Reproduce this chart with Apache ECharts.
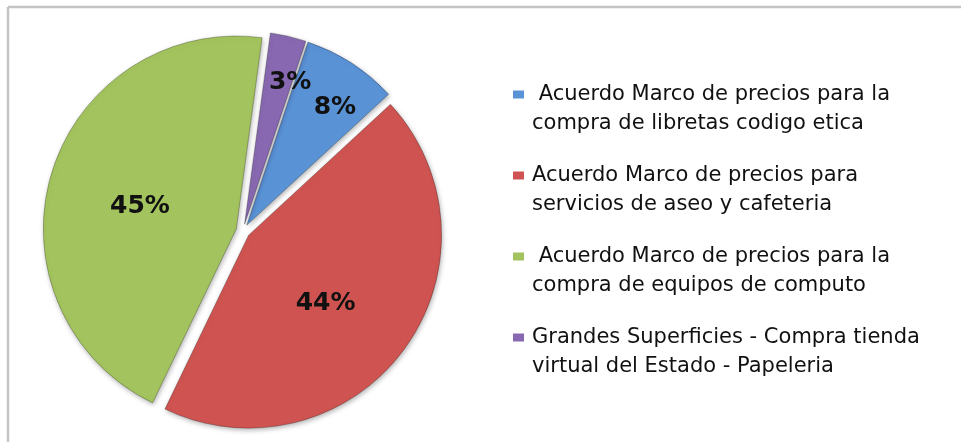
<!DOCTYPE html>
<html>
<head>
<meta charset="utf-8">
<script src="https://cdn.jsdelivr.net/npm/echarts@6/dist/echarts.min.js"></script>
<style>
  html, body { margin: 0; padding: 0; background: #fff; }
  #main { width: 961px; height: 442px; }
</style>
</head>
<body>
<div id="main"></div>
<script>
var categories = [
  " Acuerdo Marco de precios para la\ncompra de libretas codigo etica",
  "Acuerdo Marco de precios para\nservicios de aseo y cafeteria",
  " Acuerdo Marco de precios para la\ncompra de equipos de computo",
  "Grandes Superficies - Compra tienda\nvirtual del Estado - Papeleria"
];
var values = [8, 44, 45, 3];
var colors = ["#5a92d6", "#cf5451", "#a3c35e", "#8868b0"];
// nudges so the inside labels sit where the reference puts them
var labelNudge = [[34, -34], [-3, 9], [-1, 6], [23, -45]];

var myChart = echarts.init(document.getElementById("main"));

var pieData = [];
var rich = {
  s: { width: 8 },
  t: { fontFamily: "DejaVu Sans", fontSize: 21, lineHeight: 29, color: "#111" },
  t2: { fontFamily: "DejaVu Sans", fontSize: 21, lineHeight: 29, color: "#111", padding: [0, 0, 0, 19] }
};
for (var i = 0; i < categories.length; i++) {
  rich["m" + i] = { width: 11, height: 8, backgroundColor: colors[i] };
  pieData.push({
    name: categories[i],
    value: values[i],
    selected: true,
    itemStyle: { color: colors[i] }
  });
}

var options = {
  animation: false,
  graphic: [
    {
      type: "line",
      shape: { x1: 8, y1: 7, x2: 961, y2: 7 },
      style: { stroke: "#c4c4c4", lineWidth: 2.5 }
    },
    {
      type: "line",
      shape: { x1: 8, y1: 7, x2: 8, y2: 442 },
      style: { stroke: "#c4c4c4", lineWidth: 2.5 }
    }
  ],
  legend: {
    orient: "vertical",
    left: 508,
    top: 84,
    padding: 0,
    icon: "none",
    itemWidth: 0,
    itemHeight: 8,
    itemGap: 31,
    selectedMode: false,
    formatter: function (name) {
      var idx = categories.indexOf(name);
      var lines = name.split("\n");
      return "{m" + idx + "|}{s|}{t|" + lines[0] + "}\n{t2|" + lines[1] + "}";
    },
    textStyle: { rich: rich }
  },
  series: [
    {
      type: "pie",
      center: [243, 231],
      radius: 193,
      startAngle: 71.5,
      clockwise: true,
      selectedMode: "multiple",
      selectedOffset: 7,
      avoidLabelOverlap: false,
      itemStyle: {
        borderColor: "rgba(0,0,0,0.25)",
        borderWidth: 1,
        shadowBlur: 5,
        shadowColor: "rgba(0,0,0,0.3)",
        shadowOffsetX: 1,
        shadowOffsetY: 2
      },
      label: {
        position: "inside",
        formatter: "{d}%",
        fontFamily: "DejaVu Sans",
        fontWeight: "bold",
        fontSize: 25,
        color: "#111"
      },
      labelLayout: function (params) {
        var n = labelNudge[params.dataIndex];
        return { dx: n[0], dy: n[1], hideOverlap: false };
      },
      labelLine: { show: false },
      emphasis: { disabled: true },
      data: pieData
    }
  ]
};
myChart.setOption(options);
</script>
</body>
</html>
